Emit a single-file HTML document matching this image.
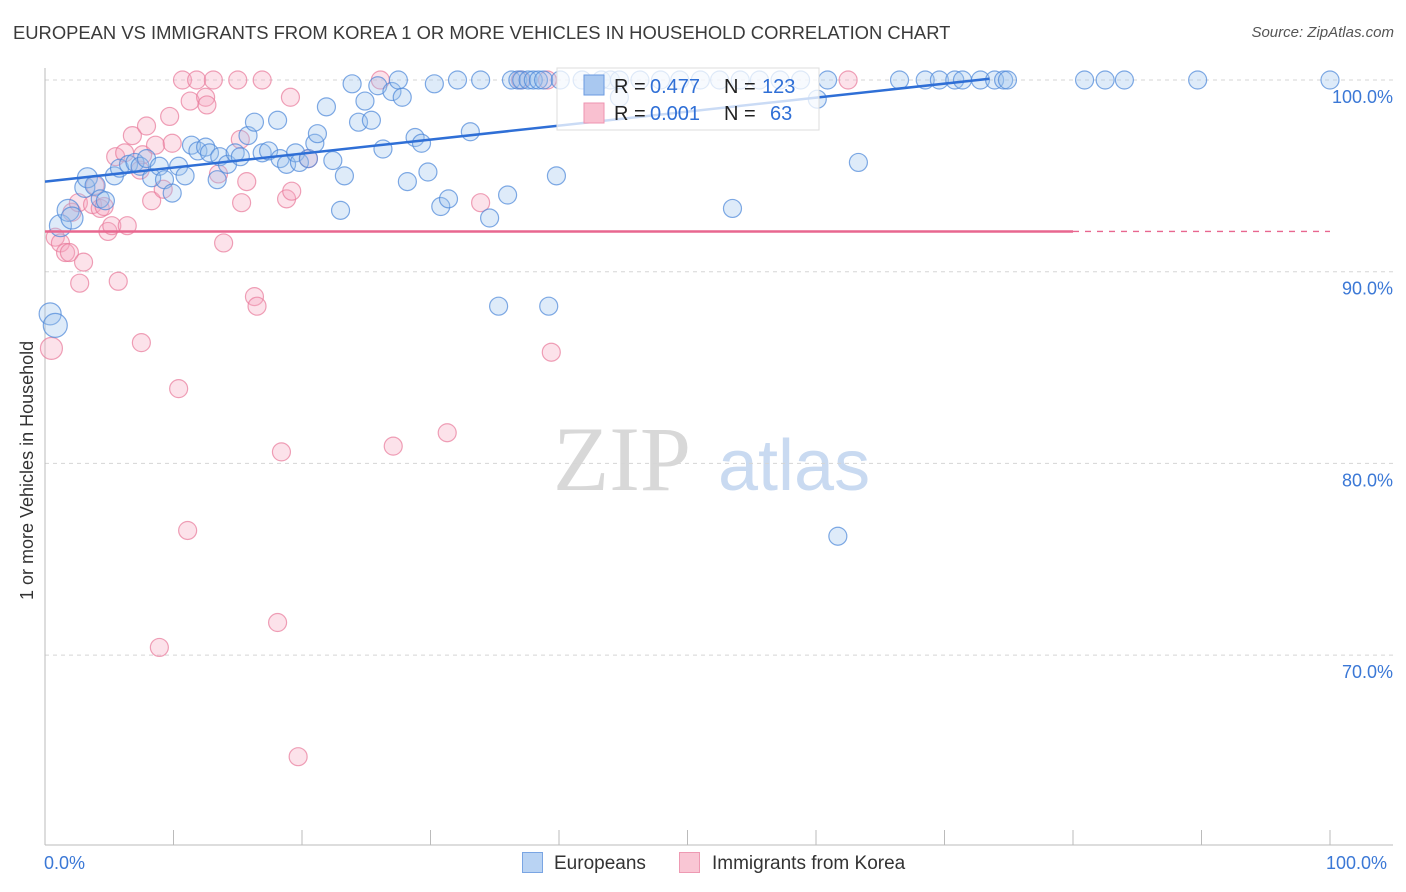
<!DOCTYPE html>
<html><head><meta charset="utf-8"><style>
body{margin:0;background:#fff;font-family:"Liberation Sans",sans-serif;}
#wrap{position:relative;width:1406px;height:892px;overflow:hidden;}
.t{position:absolute;white-space:nowrap;}
</style></head><body>
<div id="wrap">
<div class="t" style="left:13px;top:22px;font-size:18.4px;color:#3a3a3a;">EUROPEAN VS IMMIGRANTS FROM KOREA 1 OR MORE VEHICLES IN HOUSEHOLD CORRELATION CHART</div>
<div class="t" style="right:12px;top:24px;font-size:15px;color:#555;font-style:italic;">Source: ZipAtlas.com</div>
<svg id="svg" width="1406" height="892" style="position:absolute;left:0;top:0"></svg>
</div>
<script>
const blueX=[0.4,0.8,1.2,1.8,2.1,3.1,3.3,3.9,4.3,4.7,5.4,5.8,6.5,7.0,7.4,7.9,8.3,8.9,9.3,9.9,10.4,10.9,11.4,11.9,12.5,12.8,13.4,13.6,14.2,14.8,15.2,15.8,16.3,16.9,17.4,18.1,18.3,18.8,19.5,19.8,20.5,21.0,21.2,21.9,22.4,23.0,23.3,23.9,24.4,24.9,25.4,25.9,26.3,27.0,27.5,27.8,28.2,28.8,29.3,29.8,30.3,30.8,31.4,32.1,33.1,33.9,34.6,35.3,36.0,36.3,36.8,37.1,37.6,38.0,38.4,38.8,39.2,39.8,40.1,41.8,43.3,44.0,44.7,44.7,46.3,47.9,49.4,51.0,52.5,53.5,54.1,55.6,57.2,58.8,60.1,60.9,61.7,63.3,66.5,68.5,69.6,70.8,71.4,72.8,73.9,74.6,74.9,80.9,82.5,84.0,89.7,100];
const blueY=[87.8,87.2,92.4,93.2,92.8,94.4,94.9,94.5,93.8,93.7,95.0,95.4,95.6,95.7,95.5,95.9,94.9,95.5,94.8,94.1,95.5,95.0,96.6,96.3,96.5,96.2,94.8,96.0,95.6,96.2,96.0,97.1,97.8,96.2,96.3,97.9,95.9,95.6,96.2,95.7,95.9,96.7,97.2,98.6,95.8,93.2,95.0,99.8,97.8,98.9,97.9,99.7,96.4,99.4,100,99.1,94.7,97.0,96.7,95.2,99.8,93.4,93.8,100,97.3,100,92.8,88.2,94.0,100,100,100,100,100,100,100,88.2,95.0,100,100,100,100,100,99.1,100,100,100,100,100,93.3,100,100,100,100,99.0,100,76.2,95.7,100,100,100,100,100,100,100,100,100,100,100,100,100,100];
const blueR=[11,12,11,11,11,10,10,10,9,9,9,9,9,9,9,9,9,9,9,9,9,9,9,9,9,9,9,9,9,9,9,9,9,9,9,9,9,9,9,9,9,9,9,9,9,9,9,9,9,9,9,9,9,9,9,9,9,9,9,9,9,9,9,9,9,9,9,9,9,9,9,9,9,9,9,9,9,9,9,9,9,9,9,9,9,9,9,9,9,9,9,9,9,9,9,9,9,9,9,9,9,9,9,9,9,9,9,9,9,9,9,9];
const pinkX=[0.5,0.8,1.2,1.6,1.9,2.1,2.6,2.7,3.0,3.7,3.9,4.3,4.6,4.9,5.2,5.7,5.5,6.2,6.4,6.8,7.4,7.5,7.6,7.9,8.3,8.6,8.9,9.2,9.7,9.9,10.4,10.7,11.1,11.3,11.8,12.5,12.6,13.1,13.5,13.9,15.0,15.2,15.3,15.7,16.3,16.5,16.9,18.1,18.4,18.8,19.1,19.2,19.7,20.5,26.1,27.1,31.3,33.9,37.0,39.1,39.4,62.5];
const pinkY=[86.0,91.8,91.5,91.0,91.0,93.1,93.6,89.4,90.5,93.5,94.5,93.3,93.4,92.1,92.4,89.5,96.0,96.2,92.4,97.1,95.3,86.3,96.1,97.6,93.7,96.6,70.4,94.3,98.1,96.7,83.9,100,76.5,98.9,100,99.1,98.7,100,95.1,91.5,100,96.9,93.6,94.7,88.7,88.2,100,71.7,80.6,93.8,99.1,94.2,64.7,95.9,100,80.9,81.6,93.6,100,100,85.8,100];
const yTicks=[100,90,80,70];
const yTickLabels=["100.0%","90.0%","80.0%","70.0%"];
const blueFit=[94.7,0.073,73.5];
const pinkFit=[92.1,0.0,80];

const X=v=>45+v*12.85, Y=v=>80+(100-v)*19.17;
const svg=document.getElementById('svg');const NS='http://www.w3.org/2000/svg';
function mk(tag,at,parent){const e=document.createElementNS(NS,tag);for(const k in at)e.setAttribute(k,at[k]);(parent||svg).appendChild(e);return e;}
let wm=mk('text',{x:553,y:490,'font-size':92,'font-family':'Liberation Serif,serif',fill:'#d8d8d8'});wm.textContent='ZIP';


let wm2=mk('text',{x:718,y:490,'font-size':72,'font-family':'Liberation Sans,sans-serif',fill:'#c9daf1'});wm2.textContent='atlas';


yTicks.forEach((t,i)=>{
 const g=mk('line',{x1:45,x2:1393,y1:Y(t),y2:Y(t),stroke:'#d5d5d5','stroke-dasharray':'4,4'});
 
 
 const l=mk('text',{x:1393,y:Y(t)+23,'text-anchor':'end','font-size':18,fill:'#3b78d6','font-family':'Liberation Sans,sans-serif'});l.textContent=yTickLabels[i];
 
 
});
let ya=mk('line',{x1:45,x2:45,y1:68,y2:845,stroke:'#bbb'});


let xa=mk('line',{x1:45,x2:1393,y1:845,y2:845,stroke:'#bbb'});


for(let i=0;i<=10;i++){const tk=mk('line',{x1:X(i*10),x2:X(i*10),y1:830,y2:845,stroke:'#bbb'});
 
 }
function pts(xs,ys,rs,fill,stroke,name){xs.forEach((x,i)=>{const c=mk('circle',{cx:X(x),cy:Y(ys[i]),r:rs[i],fill:fill,'fill-opacity':0.33,stroke:stroke,'stroke-opacity':0.7,'stroke-width':1.2});
 
 });}
pts(pinkX,pinkY,pinkX.map((x,i)=>i===0?11:9),'#f7a8bf','#e8799a','korea-point');
pts(blueX,blueY,blueR,'#9cc2ee','#4a86d8','european-point');
let bl=mk('line',{x1:X(0),y1:Y(blueFit[0]),x2:X(blueFit[2]),y2:Y(blueFit[0]+blueFit[1]*blueFit[2]),stroke:'#2f6fd6','stroke-width':2.5});


let pl=mk('line',{x1:X(0),y1:Y(pinkFit[0]),x2:X(pinkFit[2]),y2:Y(pinkFit[0]+pinkFit[1]*pinkFit[2]),stroke:'#e8678f','stroke-width':2.5});


let pd=mk('line',{x1:X(pinkFit[2]),y1:Y(pinkFit[0]),x2:X(100),y2:Y(pinkFit[0]),stroke:'#e8678f','stroke-width':1.3,'stroke-dasharray':'6,6'});


let lb=mk('rect',{x:557,y:68,width:262,height:62,fill:'#fff','fill-opacity':0.75,stroke:'#ddd'});


let s1=mk('rect',{x:584,y:75,width:20,height:20,fill:'#a9c8f0',stroke:'#6a9ae0'});


let s2=mk('rect',{x:584,y:103,width:20,height:20,fill:'#f9c0d0',stroke:'#ee93b0'});


function lt(x,y,parts,name){const t=mk('text',{x:x,y:y,'font-size':20,'font-family':'Liberation Sans,sans-serif'});
 
 
 parts.forEach(p=>{const s=mk('tspan',{fill:p[1],x:p[2]},t);s.textContent=p[0];});}
lt(0,93,[['R = ','#222',614],['0.477','#2f6fd6',650],['N = ','#222',724],['123','#2f6fd6',762]],'legend-stats-european');
lt(0,120,[['R = ','#222',614],['0.001','#2f6fd6',650],['N = ','#222',724],['63','#2f6fd6',770]],'legend-stats-korea');
</script>
<div class="t" style="left:44px;top:853px;font-size:18px;color:#3b78d6;">0.0%</div>
<div class="t" style="left:1326px;top:853px;font-size:18px;color:#3b78d6;">100.0%</div>
<div class="t" style="left:17px;top:600px;font-size:18px;color:#333;transform:rotate(-90deg);transform-origin:0 0;">1 or more Vehicles in Household</div>
<div class="t" style="left:522px;top:852px;font-size:19px;color:#333;"><span style="display:inline-block;width:21px;height:21px;background:#b9d3f3;border:1px solid #7aa5e3;vertical-align:-4px;margin-right:11px;box-sizing:border-box"></span>Europeans</div>
<div class="t" style="left:679px;top:852px;font-size:19px;color:#333;"><span style="display:inline-block;width:21px;height:21px;background:#f9c6d4;border:1px solid #ee9ab3;vertical-align:-4px;margin-right:12px;box-sizing:border-box"></span>Immigrants from Korea</div>
</body></html>
